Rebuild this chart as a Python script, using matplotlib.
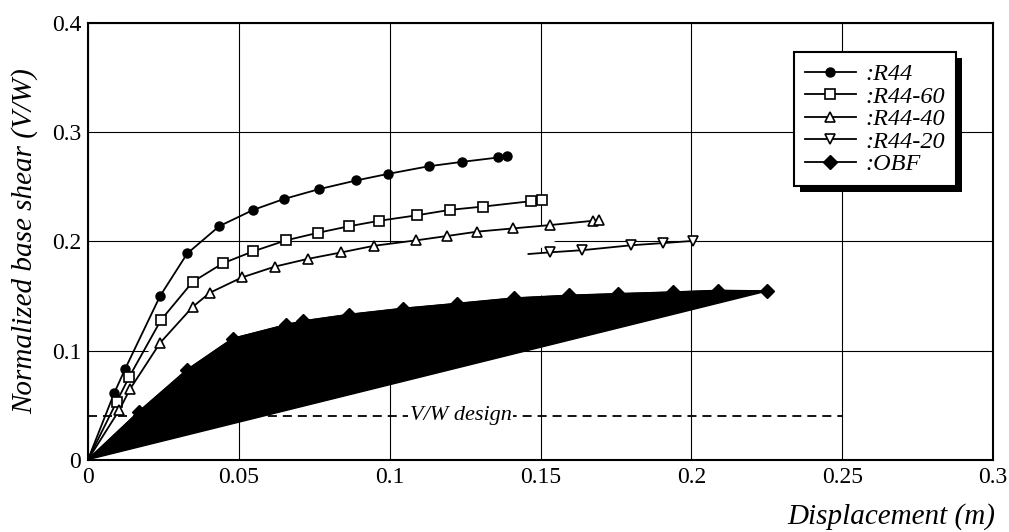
import matplotlib
matplotlib.use("Agg")
import matplotlib.pyplot as plt
import matplotlib.patches as mpatches

plt.rcParams.update({
    "font.family": ["Liberation Serif", "DejaVu Serif"],
    "font.size": 16,
    "axes.linewidth": 1.5,
})

# ---------------------------------
# Data (displacement in m, V/W)
# ---------------------------------
r44_x = [0, 0.0087, 0.0123, 0.0239, 0.0329, 0.0435, 0.0548, 0.065, 0.0766,
         0.089, 0.0995, 0.113, 0.124, 0.136, 0.139]
r44_y = [0, 0.061, 0.083, 0.150, 0.189, 0.214, 0.229, 0.239, 0.248,
         0.256, 0.262, 0.269, 0.273, 0.277, 0.2785]

r44_60_x = [0, 0.0095, 0.0137, 0.0242, 0.0347, 0.0447, 0.0548, 0.0656, 0.0763,
            0.0866, 0.0966, 0.109, 0.120, 0.131, 0.147, 0.1506]
r44_60_y = [0, 0.053, 0.076, 0.128, 0.163, 0.180, 0.191, 0.201, 0.208,
            0.214, 0.219, 0.224, 0.229, 0.232, 0.237, 0.238]

r44_40_x = [0, 0.0104, 0.0139, 0.0239, 0.0347, 0.0404, 0.051, 0.062, 0.0728,
            0.084, 0.0947, 0.1087, 0.119, 0.129, 0.141, 0.153, 0.1675, 0.1695]
r44_40_y = [0, 0.0455, 0.0645, 0.107, 0.140, 0.153, 0.167, 0.177, 0.184,
            0.190, 0.196, 0.201, 0.205, 0.209, 0.212, 0.215, 0.219, 0.2195]

r44_20_x = [0.146, 0.153, 0.1638, 0.180, 0.1905, 0.2004]
r44_20_y = [0.1885, 0.190, 0.192, 0.1965, 0.1985, 0.2005]

obf_x = [0, 0.0169, 0.0327, 0.048, 0.0656, 0.0712, 0.0866, 0.1043, 0.1222,
         0.1412, 0.1594, 0.1758, 0.1938, 0.2089, 0.225]
obf_y = [0, 0.044, 0.082, 0.111, 0.1235, 0.127, 0.133, 0.1385, 0.143,
         0.148, 0.1505, 0.152, 0.1535, 0.155, 0.1545]

design_vw = 0.04
design_x_end = 0.25

x_ticks = [0, 0.05, 0.1, 0.15, 0.2, 0.25, 0.3]
x_tick_labels = ["0", "0.05", "0.1", "0.15", "0.2", "0.25", "0.3"]
y_ticks = [0, 0.1, 0.2, 0.3, 0.4]
y_tick_labels = ["0", "0.1", "0.2", "0.3", "0.4"]

fig = plt.figure(figsize=(10.09, 5.32), dpi=100)
ax = fig.add_axes([0.0872, 0.1361, 0.8970, 0.8200])

ax.set_xlim(0, 0.3)
ax.set_ylim(0, 0.4)
ax.set_xticks(x_ticks)
ax.set_xticklabels(x_tick_labels)
ax.set_yticks(y_ticks)
ax.set_yticklabels(y_tick_labels)
ax.tick_params(length=0, labelsize=17, pad=5)
ax.set_axisbelow(True)
ax.grid(True, color="black", linewidth=0.8)

# white area between the curves (hides grid like the original)
mask_x = r44_x[1:3] + r44_40_x[3:] + r44_20_x
mask_y = r44_y[1:3] + r44_40_y[3:] + r44_20_y
ax.fill([0] + mask_x, [0] + mask_y, color="white", zorder=1, linewidth=0)

# design level
ax.plot([0, design_x_end], [design_vw, design_vw], color="black",
        linewidth=1.3, dashes=(5, 3.3), zorder=1.5)
ax.text(0.1235, design_vw, "V/W design", style="italic", fontsize=16,
        ha="center", va="center", zorder=1.6,
        bbox=dict(facecolor="white", edgecolor="none", pad=1))

# OBF filled shape
ax.fill(obf_x, obf_y, color="black", zorder=2)

lw = 1.3
ax.plot(r44_x, r44_y, color="black", lw=lw, marker="o", ms=6.5,
        mfc="black", markevery=slice(1, None), label=":R44", zorder=3)
ax.plot(r44_60_x, r44_60_y, color="black", lw=lw, marker="s", ms=6.5,
        mfc="white", mew=1.2, markevery=slice(1, None), label=":R44-60", zorder=3)
ax.plot(r44_40_x, r44_40_y, color="black", lw=lw, marker="^", ms=7.5,
        mfc="white", mew=1.2, markevery=slice(1, None), label=":R44-40", zorder=3)
ax.plot(r44_20_x, r44_20_y, color="black", lw=lw, marker="v", ms=7.5,
        mfc="white", mew=1.2, markevery=slice(1, None), label=":R44-20", zorder=3)
ax.plot(obf_x, obf_y, color="black", lw=lw, marker="D", ms=7.5,
        mfc="black", markevery=slice(1, None), label=":OBF", zorder=3)

for s in ax.spines.values():
    s.set_zorder(4)

leg = ax.legend(loc="upper left", bbox_to_anchor=(0.780, 0.934),
                borderaxespad=0, frameon=True, fancybox=False,
                framealpha=1, edgecolor="black", handlelength=2.1,
                handletextpad=0.4, labelspacing=0.02, borderpad=0.45,
                prop={"style": "italic", "size": 17.5})
leg.get_frame().set_linewidth(1.5)
leg.set_zorder(6)

ax.set_xlabel("Displacement (m)", style="italic", fontsize=21, loc="right")
ax.xaxis.set_label_coords(1.003, -0.1)
ax.set_ylabel("Normalized base shear (V/W)", style="italic", fontsize=21)
ax.yaxis.set_label_coords(-0.055, 0.5)

# black drop shadow behind the legend
fig.canvas.draw()
bb = leg.get_window_extent()
shadow = mpatches.Rectangle((bb.x0 + 6, bb.y0 - 6), bb.width, bb.height,
                            facecolor="black", edgecolor="none",
                            transform=None, zorder=5.5, clip_on=False)
ax.add_artist(shadow)

fig.savefig("out.png", dpi=100)
